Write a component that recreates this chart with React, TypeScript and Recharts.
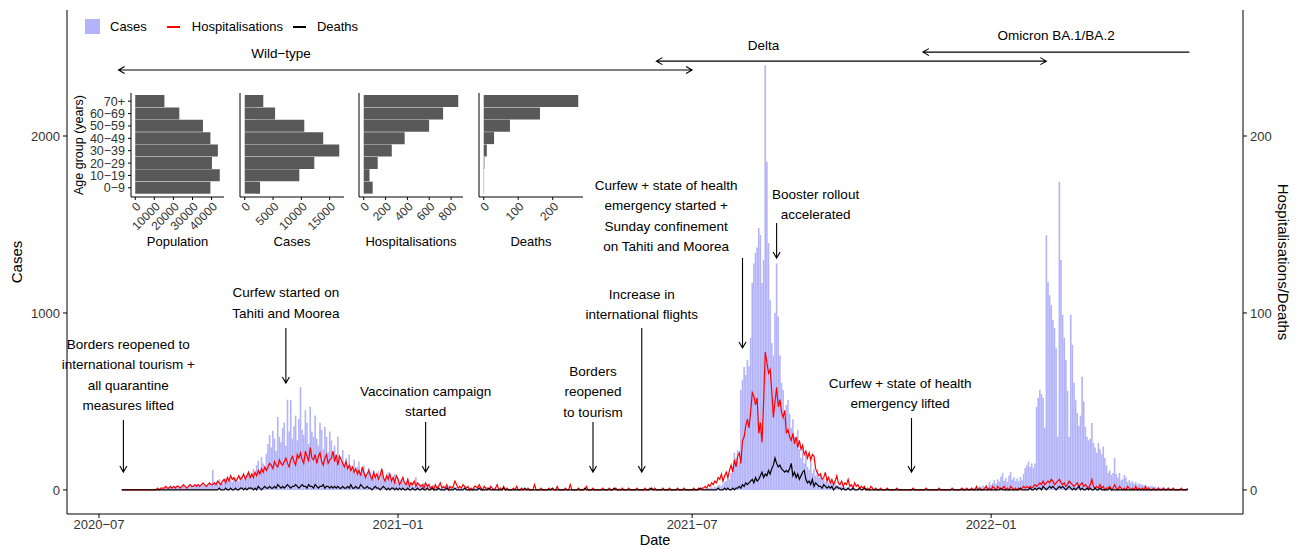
import React from 'react';
import {
  ComposedChart, BarChart, Bar, Line, XAxis, YAxis, ReferenceLine, ReferenceDot,
} from 'recharts';

const DAY = 86400000;
const t = (iso: string) => Date.parse(iso);

// daily counts, one value per day starting 2020-07-15
const firstDay = '2020-07-15';

const casesWildType = [
  0, 0, 1, 0, 0, 2, 0, 0, 1, 0, 0, 0, 3, 1, 0, 2, 1, 4, 2, 1, 0, 3, 5, 2, 6,
  8, 12, 15, 10, 18, 22, 14, 9, 20, 25, 17, 12, 24, 28, 19, 15, 26, 30, 22, 18, 27,
  33, 25, 20, 29, 35, 26, 22, 31, 38, 28,
  113, 45, 38, 52, 60, 41, 35, 58, 66, 48, 72, 55, 44, 63, 70, 52, 48, 75, 80, 61, 55, 85, 92, 70,
  95, 120, 78, 140, 165, 110, 185, 150, 130, 205,
  260, 310, 240, 335, 290, 220, 412, 300, 270, 350, 380, 250, 510, 330,
  508, 290, 360, 420, 280, 400, 582, 340, 310, 450, 380, 260, 470, 330,
  300, 420, 290, 250, 380, 340, 230, 355, 300, 215, 330,
  280, 210, 250, 170, 300, 190, 160, 225, 150, 180, 120, 200, 140, 110,
  170, 95, 130, 160, 85, 120, 140, 90, 75, 125, 100, 65, 110, 80,
  70, 105, 60, 95, 85, 55, 80, 100, 60, 70, 50, 90, 45, 65,
  40, 55, 70, 35, 30, 60, 25, 45, 30, 20, 73, 35, 28,
  30, 22, 40, 18, 25, 35, 15, 20, 28, 12, 18, 25, 10, 15, 22, 8, 14, 20, 10, 12, 18,
  9, 15, 7, 12, 10, 6, 14, 8, 5, 10,
];
const casesQuiet2021 = [
  10, 7, 13,
  12, 6, 9, 15, 5, 8, 11, 4, 7, 10, 3, 6, 14, 5, 8, 3, 5, 17, 6, 4, 9,
  2, 5, 3, 7, 1, 4, 6, 3, 1, 2, 5, 0, 3, 2, 1, 4, 0, 2, 3, 0, 1,
  2, 0, 1, 3, 0, 0, 2, 0, 1, 0, 2, 1, 0, 0, 1, 0, 0, 3, 0, 1, 0,
  0, 2, 0, 0, 1, 0, 0, 1, 0, 2, 0, 0, 1, 3, 0, 1, 0, 2, 0, 0, 1,
  6, 9, 12, 4, 10, 5, 3, 1, 0, 2, 0, 4, 1, 0, 0, 3, 1, 0, 2, 0, 1,
  2, 0, 3, 1, 0, 2, 1, 7, 2, 5, 1, 4, 3, 0, 2, 0, 3, 1, 0, 2, 1,
  0, 1, 4, 2, 0, 3, 1, 2, 5, 1, 3, 6, 2, 4,
];
const casesDelta = [
  5, 8, 4, 12, 10, 15, 9, 20, 14, 25, 30, 22, 35, 45,
  50, 70, 60, 95, 130, 210, 180, 225, 160, 565, 620, 695, 650, 735,
  700, 860, 1170, 1280, 1340, 1370, 1480, 1440, 1170, 1300, 2400, 1855, 1395, 1075,
  830, 760, 1000, 1280, 980, 760, 605, 565, 410, 480, 510, 430, 350, 400,
  300, 265, 340, 230, 180, 265, 150, 200, 130, 113, 170, 95, 120, 80,
  110, 70, 90, 55, 65, 45, 75, 40, 35, 50, 28, 40, 22, 30,
  18, 25, 15, 20, 12, 18, 10, 14, 8, 12, 6, 10, 5, 8,
  3, 6, 2, 5, 1, 4, 2, 0, 3, 1, 2, 0, 1, 4, 0, 2, 1, 0, 3, 0, 1,
  2, 0, 0, 1, 0, 2, 0, 1, 0, 3, 0, 1, 0, 0, 2, 0, 1, 0, 0, 1, 0,
  0, 3, 1, 0, 2, 0, 1, 0, 2, 4, 1, 0, 3, 2, 5, 1, 3, 0,
];
const casesOmicron = [
  8, 5, 12, 6, 10, 4, 9, 7, 14, 10, 18, 8, 22, 15,
  25, 12, 30, 20, 45, 28, 40, 55, 35, 60, 48, 75, 96, 52,
  68, 45, 80, 100, 58, 72, 50, 65, 48, 73, 55, 90, 125, 140,
  160, 130, 150, 125, 150, 470, 520, 565, 540, 520, 350, 1440, 1175, 1100,
  1045, 960, 915, 800, 300, 1740, 1300, 990, 860, 735, 560, 300, 990, 820,
  605, 510, 435, 360, 420, 640, 500, 356, 300, 280, 290, 378, 265, 240,
  210, 265, 230, 200, 245, 180, 140, 96, 110, 85, 96, 180, 90, 70,
  96, 55, 60, 85, 70, 45, 56, 40, 50, 35, 45, 28, 38, 32,
  30, 25, 28, 20, 22, 18, 24, 15, 20, 12, 18, 14, 10, 16,
  12, 8, 14, 10, 6, 9, 5, 7, 4, 6, 5, 3, 5, 4,
  5,
];

const hospWildType = [
  0, 0, 0, 0, 0, 0, 0, 0, 0, 0, 0, 0, 0, 0, 0, 0, 0, 0, 0, 0, 0, 0, 1, 0, 1,
  1, 1, 2, 1, 1, 2, 1, 2, 1, 2, 2, 1, 2, 3, 2, 1, 2, 3, 2, 2, 3, 2, 3, 2, 3, 4, 3, 2, 3, 4, 3,
  3, 4, 3, 5, 4, 3, 5, 6, 4, 7, 5, 8, 6, 7, 5, 6, 8, 6, 7, 9, 6, 8, 10, 7,
  9, 7, 10, 8, 11, 9, 12, 10, 13, 11,
  13, 15, 14, 12, 16, 14, 13, 17, 15, 14, 16, 18, 15, 13, 17, 19, 16, 14, 20, 18, 21,
  17, 15, 22, 19, 16, 24, 18, 17, 20, 15, 19, 21, 16, 14, 18, 20, 15, 17,
  18, 22, 16, 20, 14, 19, 17, 15, 13, 16, 12, 14, 11, 13, 10, 12, 9, 11, 8, 13, 10,
  7, 9, 11, 8, 6, 10, 7, 9, 6, 8, 12, 7, 5, 8, 6, 9, 5, 7, 4, 8, 6,
  3, 5, 7, 4, 3, 6, 2, 4, 3, 5, 2, 4, 3,
  2, 3, 1, 4, 2, 3, 1, 2, 0, 3, 1, 2, 4, 1, 2, 1, 3, 0, 2, 1, 2,
  5, 3, 1, 2, 1, 3, 2, 1, 2, 0,
];
const hospQuiet2021 = [
  1, 0, 2,
  2, 1, 3, 1, 0, 2, 1, 1, 0, 2, 1, 0, 1, 3, 0, 1, 0, 2, 0, 1, 0,
  0, 0, 1, 0, 2, 0, 0, 1, 0, 0, 0, 1, 0, 0, 0, 3, 0, 0, 0, 1, 0,
  0, 0, 0, 1, 0, 0, 0, 0, 2, 0, 0, 0, 0, 1, 0, 0, 3, 0, 0, 0, 0,
  1, 0, 0, 0, 0, 2, 0, 0, 0, 1, 0, 0, 0, 0, 0, 1, 0, 0, 0, 1, 0,
  0, 0, 1, 0, 0, 0, 1, 0, 0, 0, 1, 0, 0, 0, 0, 1, 0, 0, 0, 0, 1,
  0, 0, 1, 0, 0, 1, 0, 0, 0, 0, 1, 0, 0, 0, 1, 0, 0, 0, 0, 1, 0,
  0, 0, 1, 0, 0, 0, 0, 0, 1, 0, 0, 1, 0, 1,
];
const hospDelta = [
  1, 2, 1, 3, 2, 4, 3, 5, 4, 7, 6, 9, 5, 8,
  10, 7, 11, 14, 10, 17, 13, 19, 21, 15, 28, 30, 36, 40,
  35, 44, 55, 53, 48, 52, 32, 38, 27, 50, 78, 72, 66, 68,
  56, 41, 50, 58, 47, 51, 44, 41, 45, 32, 34, 30, 28, 32,
  26, 30, 24, 28, 23, 25, 20, 22, 18, 21, 17, 20, 19, 12,
  10, 8, 9, 6, 7, 10, 5, 7, 4, 6, 3, 5, 8, 4,
  3, 5, 2, 4, 3, 6, 2, 3, 1, 4, 2, 3, 1, 2,
  1, 2, 0, 1, 0, 2, 1, 0, 1, 0, 0, 1, 0, 0, 0, 1, 0, 0, 0, 0, 0,
  1, 0, 0, 0, 0, 0, 0, 0, 0, 0, 1, 0, 0, 0, 0, 0, 0, 0, 1, 0, 0,
  0, 0, 0, 0, 0, 1, 0, 0, 0, 0, 0, 0, 0, 1, 0, 0, 0, 0,
];
const hospOmicron = [
  0, 1, 0, 0, 1, 0, 0, 1, 0, 0, 2, 0, 1, 0,
  0, 1, 2, 0, 1, 0, 2, 1, 0, 2, 1, 0, 1, 2,
  0, 1, 0, 2, 1, 0, 1, 0, 1, 0, 1, 2, 1, 2,
  1, 2, 1, 2, 3, 2, 3, 4, 3, 5, 3, 4, 5, 4,
  6, 5, 3, 4, 5, 6, 4, 3, 4, 2, 3, 5, 4, 3,
  2, 3, 4, 2, 3, 4, 2, 3, 2, 1, 3, 6, 2, 1,
  2, 1, 3, 1, 2, 0, 1, 1, 2, 0, 1, 3, 1, 0,
  2, 1, 0, 1, 0, 2, 1, 0, 1, 0, 2, 0, 1, 0,
  1, 0, 2, 0, 1, 0, 0, 1, 0, 0, 1, 0, 0, 1,
  0, 0, 1, 0, 0, 1, 0, 0, 0, 0, 1, 0, 0, 0,
  1,
];

const deathsWildType = [
  0, 0, 0, 0, 0, 0, 0, 0, 0, 0, 0, 0, 0, 0, 0, 0, 0, 0, 0, 0, 0, 0, 0, 0, 0,
  0, 0, 0, 0, 0, 0, 0, 0, 0, 0, 0, 0, 0, 0, 0, 0, 0, 0, 0, 0, 0, 0, 0, 0, 0, 0, 0, 0, 0, 0, 0,
  0, 0, 0, 0, 1, 0, 0, 0, 1, 0, 0, 1, 0, 0, 1, 0, 0, 1, 1, 0, 1, 0, 1, 1,
  1, 0, 1, 0, 2, 1, 0, 1, 2, 1,
  1, 2, 1, 1, 2, 1, 3, 2, 1, 2, 1, 2, 3, 2, 1, 2, 2, 3, 2, 1, 2,
  3, 2, 2, 1, 3, 2, 2, 1, 3, 2, 1, 2, 2, 3, 1, 2, 2, 1,
  2, 1, 2, 1, 2, 1, 1, 2, 1, 1, 2, 1, 3, 1, 1, 2, 1, 1, 3, 2, 1,
  1, 2, 1, 1, 0, 1, 2, 1, 1, 0, 1, 2, 1, 0, 1, 0, 1, 1, 0, 1, 0,
  1, 0, 1, 0, 0, 1, 0, 0, 1, 0, 0, 1, 0,
  0, 1, 0, 0, 1, 0, 0, 1, 0, 0, 0, 1, 0, 0, 0, 0, 1, 0, 0, 0, 0,
  1, 0, 0, 0, 0, 0, 1, 0, 0, 0,
];
const deathsQuiet2021 = [
  0, 0, 0,
  0, 0, 1, 0, 0, 0, 0, 0, 1, 0, 0, 0, 0, 0, 0, 0, 0, 1, 0, 0, 0,
  0, 0, 0, 0, 0, 0, 0, 0, 0, 1, 0, 0, 0, 0, 0, 0, 0, 0, 0, 0, 0,
  0, 0, 0, 0, 0, 1, 0, 0, 0, 0, 0, 0, 0, 0, 0, 0, 0, 0, 0, 0, 0,
  0, 0, 0, 0, 1, 0, 0, 0, 0, 0, 0, 0, 0, 0, 0, 0, 0, 0, 0, 0, 0,
  0, 1, 0, 0, 0, 0, 0, 0, 0, 0, 0, 0, 0, 0, 0, 0, 0, 0, 0, 0, 0,
  0, 0, 0, 1, 0, 0, 0, 0, 0, 0, 0, 0, 0, 0, 0, 0, 0, 0, 0, 0, 0,
  0, 0, 0, 0, 0, 0, 0, 0, 0, 0, 0, 0, 1, 0,
];
const deathsDelta = [
  0, 0, 0, 0, 0, 0, 0, 0, 0, 1, 0, 0, 0, 1,
  0, 1, 0, 0, 1, 0, 1, 1, 2, 1, 3, 2, 4, 3,
  4, 5, 6, 4, 7, 5, 6, 8, 10, 7, 9, 8, 11, 9,
  12, 14, 18, 15, 13, 14, 12, 11, 10, 11, 10, 12, 15, 8,
  10, 7, 9, 6, 8, 10, 11, 6, 4, 5, 3, 6, 2, 4,
  3, 2, 2, 1, 3, 2, 1, 2, 1, 2, 0, 1, 2, 1,
  1, 0, 1, 0, 0, 1, 0, 0, 1, 0, 0, 0, 1, 0,
  0, 1, 0, 0, 0, 0, 0, 0, 0, 0, 0, 0, 0, 0, 0, 0, 0, 0, 0, 0, 0,
  0, 0, 0, 0, 0, 0, 0, 0, 0, 0, 0, 0, 0, 0, 0, 0, 0, 0, 0, 0, 0,
  0, 0, 0, 0, 0, 0, 0, 0, 0, 0, 0, 0, 0, 0, 0, 0, 0, 0,
];
const deathsOmicron = [
  0, 0, 0, 0, 0, 0, 0, 0, 0, 0, 0, 0, 0, 0,
  0, 0, 0, 0, 0, 0, 0, 0, 0, 0, 0, 1, 0, 0,
  0, 0, 0, 0, 0, 0, 0, 0, 0, 1, 0, 0, 0, 0,
  0, 1, 0, 0, 1, 0, 1, 1, 0, 2, 1, 0, 1, 2,
  1, 2, 1, 0, 1, 2, 1, 2, 1, 0, 1, 2, 1, 0,
  1, 0, 1, 2, 0, 1, 0, 0, 1, 0, 1, 0, 0, 1,
  0, 0, 1, 0, 0, 0, 0, 0, 1, 0, 0, 0, 0, 0,
  0, 0, 0, 0, 0, 0, 0, 0, 0, 0, 0, 0, 0, 0,
  0, 0, 0, 0, 0, 0, 0, 0, 0, 0, 0, 0, 0, 0,
  0, 0, 0, 0, 0, 0, 0, 0, 0, 0, 0, 0, 0, 0,
  0,
];

const cases = [...casesWildType, ...casesQuiet2021, ...casesDelta, ...casesOmicron];
const hospitalisations = [...hospWildType, ...hospQuiet2021, ...hospDelta, ...hospOmicron];
const deaths = [...deathsWildType, ...deathsQuiet2021, ...deathsDelta, ...deathsOmicron];

const chartData = cases.map((c, i) => ({
  date: t(firstDay) + i * DAY,
  cases: c,
  hosp: hospitalisations[i] ?? 0,
  deaths: deaths[i] ?? 0,
}));

const dateTicks = ['2020-07-01', '2021-01-01', '2021-07-01', '2022-01-01'];
const dateTickLabels = ['2020\u221207', '2021\u221201', '2021\u221207', '2022\u221201'];

// inset: totals by age group
const ageGroups = ['0\u22129', '10\u221219', '20\u221229', '30\u221239', '40\u221249', '50\u221259', '60\u221269', '70+'];
const populationByAge = [39400, 44300, 40200, 43300, 39400, 35500, 23100, 15300];
const casesByAge = [2710, 9640, 12290, 16700, 13860, 10520, 5360, 3280];
const hospByAge = [82, 53, 128, 257, 375, 599, 727, 866];
const deathsByAge = [1, 1, 2, 9, 30, 76, 163, 274];

const eventNotes = [
  { lines: ['Borders reopened to', 'international tourism +', 'all quarantine', 'measures lifted'], textDate: '2020-07-19', textY: 824, date: '2020-07-16', from: 395, to: 101 },
  { lines: ['Curfew started on', 'Tahiti and Moorea'], textDate: '2020-10-24', textY: 1113, date: '2020-10-24', from: 915, to: 604 },
  { lines: ['Vaccination campaign', 'started'], textDate: '2021-01-18', textY: 559, date: '2021-01-18', from: 384, to: 101 },
  { lines: ['Borders', 'reopened', 'to tourism'], textDate: '2021-05-01', textY: 672, date: '2021-05-01', from: 384, to: 101 },
  { lines: ['Increase in', 'international flights'], textDate: '2021-05-31', textY: 1107, date: '2021-05-31', from: 915, to: 101 },
  { lines: ['Curfew + state of health', 'emergency started +', 'Sunday confinement', 'on Tahiti and Moorea'], textDate: '2021-06-15', textY: 1723, date: '2021-08-01', from: 1310, to: 802 },
  { lines: ['Booster rollout', 'accelerated'], textDate: '2021-09-15', textY: 1672, date: '2021-08-22', from: 1508, to: 1310 },
  { lines: ['Curfew + state of health', 'emergency lifted'], textDate: '2021-11-06', textY: 604, date: '2021-11-13', from: 406, to: 101 },
];

const variantSpans = [
  { label: 'Wild\u2212type', textDate: '2020-10-21', textY: 2469, start: '2020-07-13', end: '2021-07-01', y: 2373, heads: 'both' },
  { label: 'Delta', textDate: '2021-08-14', textY: 2514, start: '2021-06-09', end: '2022-02-04', y: 2423, heads: 'both' },
  { label: 'Omicron BA.1/BA.2', textDate: '2022-02-10', textY: 2570, start: '2022-05-03', end: '2021-11-20', y: 2474, heads: 'end' },
];

const FONT = "'Liberation Sans', Arial, Helvetica, sans-serif";
const CASES_COLOR = '#b3b3fa';

const arrowPath = (x1: number, y1: number, x2: number, y2: number, heads: string) => {
  const head = (xa: number, ya: number, xb: number, yb: number) => {
    const ang = Math.atan2(yb - ya, xb - xa);
    const L = 7;
    const A = Math.PI / 6;
    return `M${xb - L * Math.cos(ang - A)},${yb - L * Math.sin(ang - A)}L${xb},${yb}L${xb - L * Math.cos(ang + A)},${yb - L * Math.sin(ang + A)}`;
  };
  let d = `M${x1},${y1}L${x2},${y2}`;
  if (heads !== 'start') d += head(x1, y1, x2, y2);
  if (heads !== 'end' && heads !== 'none') d += head(x2, y2, x1, y1);
  return d;
};

const arrowShape = (heads: string) => (p: any) => (
  <path d={arrowPath(p.x1, p.y1, p.x2, p.y2, heads)} fill="none" stroke="#000" strokeWidth={1.1} />
);

const textShape = (lines: string[], size = 13.5) => (p: any) => (
  <g>
    {lines.map((l, i) => (
      <text key={i} x={p.cx} y={p.cy + i * 20.6} textAnchor="middle" dominantBaseline="central"
        fontSize={size} fill="#000" fontFamily={FONT}>{l}</text>
    ))}
  </g>
);

const RotTick = (p: any) => (
  <text transform={`translate(${p.x},${p.y}) rotate(-45)`} textAnchor="end" dy="0.75em"
    fontSize={12} fill="#333" fontFamily={FONT}>{p.payload.value}</text>
);

const insetPanels = [
  { title: 'Population', values: populationByAge, ticks: [0, 10000, 20000, 30000, 40000], axisX: 131, plotW: 93, labels: true },
  { title: 'Cases', values: casesByAge, ticks: [0, 5000, 10000, 15000], axisX: 240, plotW: 104, labels: false },
  { title: 'Hospitalisations', values: hospByAge, ticks: [0, 200, 400, 600, 800], axisX: 359, plotW: 104, labels: false },
  { title: 'Deaths', values: deathsByAge, ticks: [0, 100, 200], axisX: 479, plotW: 104, labels: false },
];

const AgeInset = ({ title, values, ticks, axisX, plotW, labels }: any) => {
  const max = Math.max(...values);
  const data = ageGroups.map((g, i) => ({ g, v: values[i] }));
  const axisW = labels ? 61 : 8;
  return (
    <div style={{ position: 'absolute', left: axisX - axisW, top: 88 }}>
      <BarChart width={axisW + plotW + 12} height={165} data={data} layout="vertical"
        margin={{ top: 5, right: 12, bottom: 0, left: 0 }} barCategoryGap={0}>
        <XAxis type="number" dataKey="v" domain={[-0.05 * max, 1.05 * max]} ticks={ticks} interval={0}
          allowDataOverflow tick={<RotTick />} tickSize={3} tickMargin={1} height={56}
          axisLine={{ stroke: '#000' }} tickLine={{ stroke: '#000' }}
          label={{ value: title, position: 'insideBottom', offset: 7, fontSize: 13, fill: '#000' }} />
        <YAxis type="category" dataKey="g" reversed width={axisW} interval={0}
          tick={labels ? { fontSize: 12.5, fill: '#333' } : false} tickSize={3} tickMargin={3}
          padding={{ top: 2, bottom: 3 }}
          axisLine={{ stroke: '#000' }} tickLine={{ stroke: '#000' }}
          label={labels ? { value: 'Age group (years)', angle: -90, position: 'insideLeft', offset: 9, fontSize: 12.5, fill: '#000', style: { textAnchor: 'middle' } } : undefined} />
        <Bar dataKey="v" fill="#595959" isAnimationActive={false} />
      </BarChart>
    </div>
  );
};

export default function App() {
  const origin = t('2020-07-01');
  return (
    <div style={{ position: 'absolute', left: 0, top: 0, width: 1296, height: 549, background: '#fff', fontFamily: FONT }}>
      <ComposedChart width={1296} height={549} data={chartData} margin={{ top: 10, right: 0, bottom: 0, left: 0 }}>
        <XAxis type="number" dataKey="date" domain={[origin - 19.7 * DAY, origin + 704 * DAY]} allowDataOverflow
          ticks={dateTicks.map(t)} tickFormatter={(v: number) => dateTickLabels[dateTicks.map(t).indexOf(v)]}
          height={35} tickSize={4} tickMargin={2} tick={{ fontSize: 13, fill: '#333' }}
          axisLine={{ stroke: '#000' }} tickLine={{ stroke: '#000' }}
          label={{ value: 'Date', position: 'insideBottom', offset: 4, fontSize: 14.5, fill: '#000' }} />
        <YAxis yAxisId="left" domain={[-136, 2712]} ticks={[0, 1000, 2000]} allowDataOverflow width={67}
          tickSize={4} tickMargin={3} tick={{ fontSize: 13, fill: '#333' }}
          axisLine={{ stroke: '#000' }} tickLine={{ stroke: '#000' }}
          label={{ value: 'Cases', angle: -90, position: 'insideLeft', offset: 17, fontSize: 15, fill: '#000', style: { textAnchor: 'middle' } }} />
        <YAxis yAxisId="right" orientation="right" domain={[-13.6, 271.2]} ticks={[0, 100, 200]} allowDataOverflow width={53}
          tickSize={4} tickMargin={3} tick={{ fontSize: 13, fill: '#333' }}
          axisLine={{ stroke: '#000' }} tickLine={{ stroke: '#000' }}
          label={{ value: 'Hospitalisations/Deaths', angle: 90, position: 'insideRight', offset: 13, fontSize: 15, fill: '#000', style: { textAnchor: 'middle' } }} />
        <Bar yAxisId="left" dataKey="cases" fill={CASES_COLOR} barSize={1.6} isAnimationActive={false} />
        <Line yAxisId="right" dataKey="hosp" type="linear" stroke="#ff0000" strokeWidth={1.2} dot={false} isAnimationActive={false} />
        <Line yAxisId="right" dataKey="deaths" type="linear" stroke="#000" strokeWidth={1.2} dot={false} isAnimationActive={false} />
        {eventNotes.map((n, i) => (
          <ReferenceLine key={`a${i}`} yAxisId="left" segment={[{ x: t(n.date), y: n.from }, { x: t(n.date), y: n.to }]}
            shape={arrowShape('end')} />
        ))}
        {eventNotes.map((n, i) => (
          <ReferenceDot key={`n${i}`} yAxisId="left" x={t(n.textDate)} y={n.textY} r={0} shape={textShape(n.lines)} />
        ))}
        {variantSpans.map((v, i) => (
          <ReferenceLine key={`v${i}`} yAxisId="left" segment={[{ x: t(v.start), y: v.y }, { x: t(v.end), y: v.y }]}
            shape={arrowShape(v.heads)} />
        ))}
        {variantSpans.map((v, i) => (
          <ReferenceDot key={`vt${i}`} yAxisId="left" x={t(v.textDate)} y={v.textY} r={0} shape={textShape([v.label])} />
        ))}
      </ComposedChart>

      {/* legend */}
      <div style={{ position: 'absolute', left: 85, top: 19, display: 'flex', alignItems: 'center', fontSize: 13, color: '#000', lineHeight: '15px' }}>
        <span style={{ width: 15, height: 15, background: CASES_COLOR, display: 'inline-block' }} />
        <span style={{ marginLeft: 10 }}>Cases</span>
        <span style={{ width: 13, height: 2, background: '#ff0000', display: 'inline-block', marginLeft: 20 }} />
        <span style={{ marginLeft: 12 }}>Hospitalisations</span>
        <span style={{ width: 13, height: 2, background: '#000', display: 'inline-block', marginLeft: 10 }} />
        <span style={{ marginLeft: 11 }}>Deaths</span>
      </div>

      {insetPanels.map((p) => <AgeInset key={p.title} {...p} />)}
    </div>
  );
}
